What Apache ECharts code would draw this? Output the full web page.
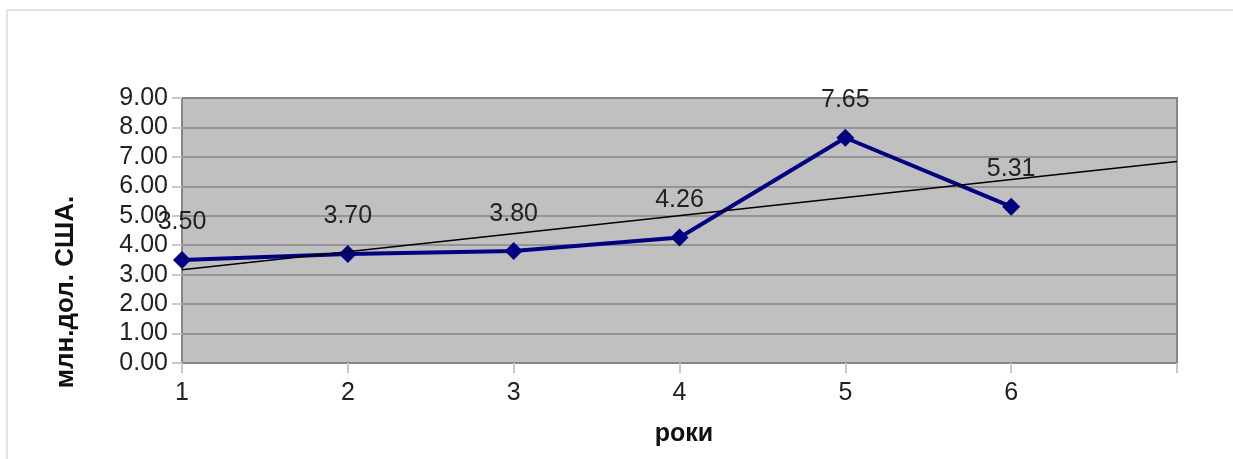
<!DOCTYPE html>
<html>
<head>
<meta charset="utf-8">
<script src="https://cdn.jsdelivr.net/npm/echarts@6/dist/echarts.min.js"></script>
<style>
html,body{margin:0;padding:0;background:#fff;}
#frame{position:absolute;left:6px;top:9px;width:1240px;height:470px;border-left:2px solid #e4e4e4;border-top:2px solid #e4e4e4;box-sizing:border-box;}
#chart{position:absolute;left:0;top:0;width:1233px;height:459px;}
</style>
</head>
<body>
<div id="frame"></div>
<div id="chart"></div>
<script>
// Data
const years = [1, 2, 3, 4, 5, 6];
const values = [3.50, 3.70, 3.80, 4.26, 7.65, 5.31];
// Linear trend line endpoints (x = 1 and x = 7)
const trendX = [1, 7];
const trendY = [3.17, 6.84];
const yTicks = [0, 1, 2, 3, 4, 5, 6, 7, 8, 9];
const xTitle = 'роки';
const yTitle = 'млн.дол. США.';

const font = '"Liberation Sans", Arial, sans-serif';
const chart = echarts.init(document.getElementById('chart'));
chart.setOption({
  animation: false,
  grid: {
    left: 182, top: 98, width: 995, height: 265,
    show: true, backgroundColor: '#c0c0c0', borderColor: '#868686', borderWidth: 2
  },
  xAxis: {
    type: 'value', min: 1, max: 7, interval: 1,
    axisLine: { show: true, lineStyle: { color: '#868686', width: 2 } },
    axisTick: { show: true, length: 10, lineStyle: { color: '#c8c8c8', width: 2 } },
    splitLine: { show: false },
    axisLabel: {
      margin: 18, fontSize: 25, color: '#222', fontFamily: font,
      formatter: v => (years.indexOf(v) >= 0 ? String(v) : '')
    }
  },
  yAxis: {
    type: 'value', min: yTicks[0], max: yTicks[yTicks.length - 1], interval: 1,
    axisLine: { show: true, lineStyle: { color: '#868686', width: 2 } },
    axisTick: { show: true, length: 10, lineStyle: { color: '#c8c8c8', width: 2 } },
    splitLine: { show: true, lineStyle: { color: '#868686', width: 1.5 } },
    axisLabel: {
      margin: 14, fontSize: 25, color: '#222', fontFamily: font,
      formatter: v => v.toFixed(2)
    }
  },
  graphic: [
    {
      type: 'text', x: 66, y: 292, rotation: Math.PI / 2,
      style: { text: yTitle, fontSize: 26, fontWeight: 'bold', fill: '#111', fontFamily: font, align: 'center', verticalAlign: 'middle' }
    },
    {
      type: 'text', x: 684, y: 434,
      style: { text: xTitle, fontSize: 25, fontWeight: 'bold', fill: '#111', fontFamily: font, align: 'center', verticalAlign: 'middle' }
    }
  ],
  series: [
    {
      type: 'line',
      data: years.map((x, i) => [x, values[i]]),
      symbol: 'diamond', symbolSize: 18,
      lineStyle: { color: '#000080', width: 4 },
      itemStyle: { color: '#000080' },
      label: {
        show: true, position: 'top', distance: 16,
        fontSize: 25, color: '#222', fontFamily: font,
        formatter: p => p.value[1].toFixed(2)
      },
      z: 2
    },
    {
      type: 'line',
      data: trendX.map((x, i) => [x, trendY[i]]),
      symbol: 'none',
      lineStyle: { color: '#000', width: 1.5 },
      silent: true,
      z: 3
    }
  ]
});
</script>
</body>
</html>
